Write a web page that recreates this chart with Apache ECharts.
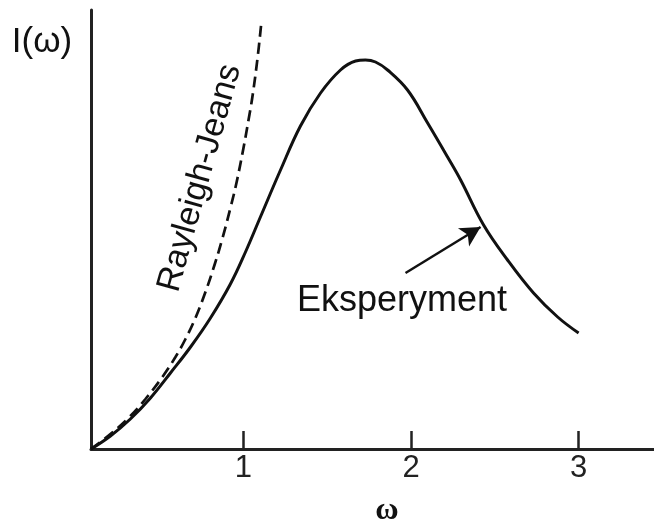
<!DOCTYPE html>
<html>
<head>
<meta charset="utf-8">
<script src="https://cdn.jsdelivr.net/npm/echarts@6/dist/echarts.min.js"></script>
<style>
html,body{margin:0;padding:0;background:#fff;}
#chart{width:654px;height:526px;}
</style>
</head>
<body>
<div id="chart"></div>
<script>
// Measured curve (Eksperyment) — omega and intensity (arbitrary units)
const omegaExp = [0.09,0.206,0.325,0.445,0.564,0.684,0.803,0.922,1.012,1.101,1.221,1.340,1.460,1.579,1.669,1.728,1.788,1.860,1.979,2.099,2.218,2.296,2.433,2.576,2.731,2.875,3.000];
const intensityExp = [0,13,30,51,76,102,131,165,197,232,279,323,356,379,388,389,387,379,359,326,292,269,224,189,156,132,116];
// Rayleigh-Jeans curve
const omegaRJ = [0.09,0.206,0.313,0.415,0.516,0.594,0.654,0.713,0.773,0.827,0.875,0.922,0.958,1.000,1.030,1.054,1.084,1.107];
const intensityRJ = [0,15,31,50,72,92,110,131,157,184,211,241,266,301,329,353,391,427];
// Axis ticks
const xTicks = [1,2,3];
// Arrow annotation: from label to curve
const arrowFrom = [1.967,176];
const arrowTo = [2.415,222];

const chart = echarts.init(document.getElementById('chart'));
const pair = (xs, ys) => xs.map((x,i)=>[x, ys[i]]);
const axisColor = '#222';
chart.setOption({
  backgroundColor:'#ffffff',
  animation:false,
  grid:{left:91, right:0, top:10, bottom:77},
  xAxis:{
    type:'value', min:0.09, max:3.45,
    axisLine:{show:true, onZero:false, lineStyle:{color:axisColor, width:3}},
    axisTick:{show:true, inside:true, length:18, customValues:xTicks, lineStyle:{color:axisColor, width:2.5}},
    axisLabel:{show:true, customValues:xTicks, margin:4, fontSize:31, color:'#222', fontFamily:'Liberation Sans'},
    splitLine:{show:false}
  },
  yAxis:{
    type:'value', min:0, max:439,
    axisLine:{show:true, onZero:false, lineStyle:{color:axisColor, width:3}},
    axisTick:{show:false}, axisLabel:{show:false}, splitLine:{show:false}
  },
  series:[
    {
      type:'line', name:'Eksperyment', data:pair(omegaExp,intensityExp),
      smooth:0.4, showSymbol:false, symbol:'none',
      lineStyle:{color:'#111', width:3},
      markLine:{
        silent:true, symbol:['none','arrow'], symbolSize:[16,20],
        lineStyle:{color:'#111', width:2.5, type:'solid'},
        label:{show:false},
        data:[[{coord:arrowFrom},{coord:arrowTo}]]
      }
    },
    {
      type:'line', name:'Rayleigh-Jeans', data:pair(omegaRJ,intensityRJ),
      smooth:0.4, showSymbol:false, symbol:'none',
      lineStyle:{color:'#111', width:2.7, type:[11,6]}
    }
  ],
  graphic:[
    {type:'text', x:42, y:42, style:{text:'I(ω)', font:'35px "Liberation Sans"', fill:'#111', textAlign:'center', textVerticalAlign:'middle'}},
    {type:'text', x:387, y:511, style:{text:'ω', font:'bold 32px "Liberation Serif"', fill:'#111', textAlign:'center', textVerticalAlign:'middle'}},
    {type:'text', x:402, y:301, style:{text:'Eksperyment', font:'36px "Liberation Sans"', fill:'#111', textAlign:'center', textVerticalAlign:'middle'}},
    {type:'text', x:200, y:178, rotation:1.30, style:{text:'Rayleigh-Jeans', font:'34px "Liberation Sans"', fill:'#111', textAlign:'center', textVerticalAlign:'middle'}}
  ]
});
</script>
</body>
</html>
